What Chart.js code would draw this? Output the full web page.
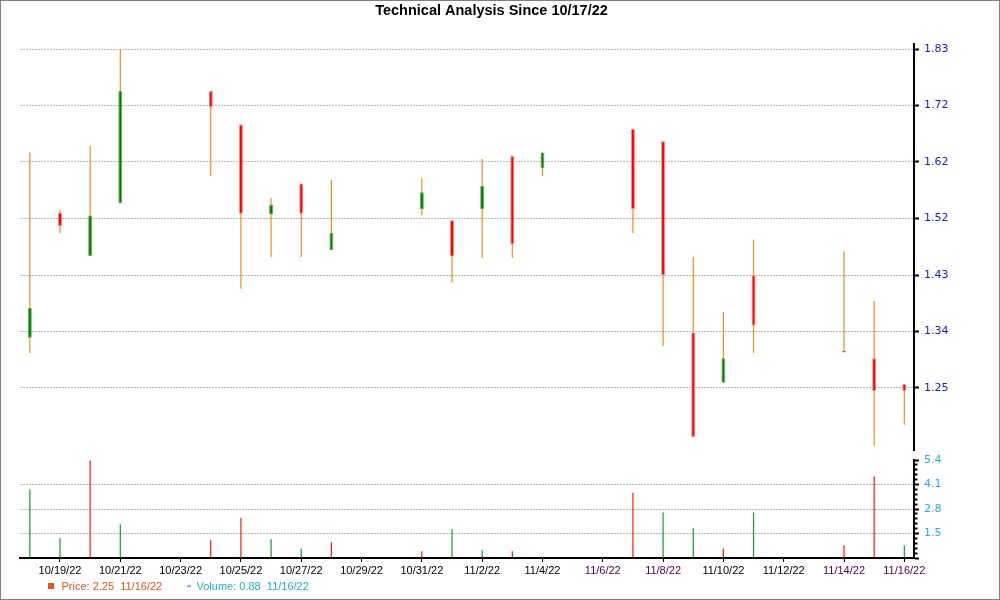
<!DOCTYPE html>
<html>
<head>
<meta charset="utf-8">
<script src="https://cdn.jsdelivr.net/npm/chart.js@4.4.1/dist/chart.umd.min.js"></script>
<style>
  html, body { margin: 0; padding: 0; background: #fff; }
  #wrap { position: relative; width: 1000px; height: 600px; overflow: hidden; background: #fff; }
  #frame { position: absolute; left: 0; top: 0; width: 998px; height: 598px; border: 1px solid #808080; pointer-events: none; }
  canvas { position: absolute; left: 0; }
  #priceChart { top: 0; width: 963px; height: 462px; }
  #volumeChart { top: 440px; width: 963px; height: 160px; }
</style>
</head>
<body>
<div id="wrap">
  <canvas id="priceChart" width="963" height="462"></canvas>
  <canvas id="volumeChart" width="963" height="160"></canvas>
  <div id="frame"></div>
</div>
<script>
// ---------------- data ----------------
const chartTitle = 'Technical Analysis Since 10/17/22';
const startDate = '10/17/22';
const dates = ['10/18/22','10/19/22','10/20/22','10/21/22','10/24/22','10/25/22','10/26/22','10/27/22','10/28/22','10/31/22','11/1/22','11/2/22','11/3/22','11/4/22','11/7/22','11/8/22','11/9/22','11/10/22','11/11/22','11/14/22','11/15/22','11/16/22'];
const openPrices  = [1.336,1.550,1.476,1.566,1.758,1.701,1.547,1.600,1.486,1.556,1.537,1.556,1.647,1.626,1.693,1.672,1.345,1.259,1.443,1.311,1.301,1.257];
const highPrices  = [1.653,1.555,1.664,1.830,1.758,1.701,1.575,1.600,1.606,1.609,1.537,1.642,1.647,1.653,1.693,1.672,1.474,1.380,1.504,1.484,1.399,1.257];
const lowPrices   = [1.310,1.515,1.476,1.566,1.613,1.420,1.474,1.474,1.486,1.545,1.430,1.473,1.473,1.613,1.515,1.322,1.166,1.259,1.310,1.311,1.151,1.187];
const closePrices = [1.387,1.527,1.545,1.758,1.731,1.548,1.564,1.548,1.515,1.585,1.475,1.596,1.496,1.653,1.556,1.443,1.166,1.301,1.357,1.311,1.245,1.245];
const volumes     = [3.83,1.28,5.38,1.99,1.14,2.34,1.19,0.71,1.03,0.56,1.72,0.61,0.56,null,3.65,2.62,1.78,0.71,2.62,0.87,4.53,0.88];
const volumeUp    = [true,true,false,true,false,false,true,true,false,false,true,true,false,null,false,true,true,false,true,false,false,true];

const priceTickValues = [1.25,1.3467,1.4433,1.54,1.6367,1.7333,1.83];
const priceTickLabels = ['1.25','1.34','1.43','1.52','1.62','1.72','1.83'];
const volumeTickValues = [0.2,1.5,2.8,4.1,5.4];
const volumeTickLabels = ['','1.5','2.8','4.1','5.4'];
const dateTickLabels = ['10/19/22','10/21/22','10/23/22','10/25/22','10/27/22','10/29/22','10/31/22','11/2/22','11/4/22','11/6/22','11/8/22','11/10/22','11/12/22','11/14/22','11/16/22'];
const highlightedDateLabels = ['11/6/22','11/8/22','11/14/22','11/16/22'];
const legendPriceText = 'Price: 2.25  11/16/22';
const legendVolumeText = 'Volume: 0.88  11/16/22';

// ---------------- helpers ----------------
function parseDate(s) { const [m, d, y] = s.split('/').map(Number); return new Date(2000 + y, m - 1, d); }
const base = parseDate(startDate);
function dayOf(s) { return Math.round((parseDate(s) - base) / 86400000); }
const xs = dates.map(dayOf);
const dateTickDays = dateTickLabels.map(dayOf);

const X_MIN = 0.6735, X_MAX = 30.321;
const P_MIN = 1.1439, P_MAX = 1.8386;
const V_MIN = 0.2, V_MAX = 5.4, V_MINOR_STEP = 0.26;

const WICK = '#f08c1c';
const UP = '#008000', UP_EDGE = '#62b062';
const DOWN = '#ff0000', DOWN_EDGE = '#ff8c8c';
const VOL_UP = '#0f9e32', VOL_DOWN = '#ff1a00';
const GRID = '#b8b8b8';
const PRICE_TICK_COLOR = '#1c1ccc';
const VOL_TICK_COLOR = '#1fb3c4';
const LEGEND_PRICE_COLOR = '#f0501e';

const tickFont = { family: 'DejaVu Sans', size: 11 };

Chart.defaults.font.family = 'Liberation Sans';

// ---------------- price chart ----------------
const wickData = xs.map((x, i) => ({ x, y: [lowPrices[i], highPrices[i]] }));
const bodyData = xs.map((x, i) => ({ x, y: [openPrices[i], closePrices[i]] }));
const isUp = i => closePrices[i] > openPrices[i];
const isDoji = i => closePrices[i] === openPrices[i];

new Chart(document.getElementById('priceChart'), {
  type: 'bar',
  data: {
    datasets: [
      {
        label: 'wick', data: wickData, backgroundColor: WICK, borderWidth: 0,
        barThickness: 1.2, grouped: false, order: 2, inflateAmount: 0
      },
      {
        label: 'body', data: bodyData,
        backgroundColor: xs.map((_, i) => isUp(i) ? UP : DOWN),
        borderColor: xs.map((_, i) => isDoji(i) ? DOWN : (isUp(i) ? UP_EDGE : DOWN_EDGE)),
        borderWidth: 1, borderSkipped: false, minBarLength: 1,
        barThickness: 4, grouped: false, order: 1, inflateAmount: 0
      }
    ]
  },
  options: {
    responsive: false, animation: false, devicePixelRatio: 1,
    layout: { padding: { left: 20, right: 0, top: 0, bottom: 12 } },
    plugins: {
      legend: { display: false }, tooltip: { enabled: false },
      title: {
        display: true, text: chartTitle, color: '#000',
        font: { family: 'Liberation Sans', size: 14.5, weight: 'bold', lineHeight: 1.2 },
        padding: { top: 2, bottom: 24.6 }
      }
    },
    scales: {
      x: { type: 'linear', min: X_MIN, max: X_MAX, display: false, offset: false, grid: { offset: false } },
      y: {
        type: 'linear', position: 'right', min: P_MIN, max: P_MAX,
        afterBuildTicks: s => { s.ticks = priceTickValues.map(v => ({ value: v })); },
        afterFit: s => { s.width = 49; },
        ticks: { callback: (v, i) => priceTickLabels[i], color: PRICE_TICK_COLOR, font: tickFont, padding: 5, autoSkip: false },
        grid: { color: GRID, lineWidth: 1, tickColor: '#000', tickLength: 5, tickWidth: 2 },
        border: { color: '#000', width: 2, dash: [2, 1] }
      }
    }
  }
});

// ---------------- volume chart ----------------
const volumeData = [];
const volumeColors = [];
xs.forEach((x, i) => {
  if (volumes[i] !== null) {
    volumeData.push({ x, y: volumes[i] });
    volumeColors.push(volumeUp[i] ? VOL_UP : VOL_DOWN);
  }
});
const minorTicks = [];
for (let k = 1; k < 20; k++) { if (k % 5 !== 0) minorTicks.push(V_MIN + k * V_MINOR_STEP); }

const legendPlugin = {
  id: 'priceVolumeLegend',
  afterDraw(chart) {
    const ctx = chart.ctx;
    ctx.save();
    ctx.font = '11px "Liberation Sans"';
    ctx.textBaseline = 'middle';
    ctx.textAlign = 'left';
    const y = 146.5;
    ctx.fillStyle = LEGEND_PRICE_COLOR;
    ctx.fillRect(48, 143, 6, 6);
    ctx.fillText(legendPriceText, 61.5, y);
    ctx.fillStyle = VOL_TICK_COLOR;
    ctx.fillRect(187, 145.5, 4, 1.3);
    ctx.fillText(legendVolumeText, 196.5, y);
    ctx.restore();
  }
};

new Chart(document.getElementById('volumeChart'), {
  type: 'bar',
  data: {
    datasets: [{
      label: 'Volume', data: volumeData, backgroundColor: volumeColors, borderWidth: 0,
      barThickness: 1.2, base: V_MIN, inflateAmount: 0, yAxisID: 'y'
    }]
  },
  options: {
    responsive: false, animation: false, devicePixelRatio: 1,
    layout: { padding: { left: 20, right: 0, top: 20, bottom: 22 } },
    plugins: { legend: { display: false }, tooltip: { enabled: false }, title: { display: false } },
    scales: {
      x: {
        type: 'linear', position: 'bottom', min: X_MIN, max: X_MAX, offset: false,
        afterBuildTicks: s => { s.ticks = dateTickDays.map(v => ({ value: v })); },
        afterFit: s => { s.height = 20; },
        ticks: {
          callback: (v, i) => dateTickLabels[i], autoSkip: false, maxRotation: 0, padding: 2,
          font: { family: 'Liberation Sans', size: 11 },
          color: c => (c.tick && highlightedDateLabels.includes(c.tick.label)) ? '#500050' : '#000'
        },
        grid: { offset: false, drawOnChartArea: false, tickLength: 4, tickColor: '#000', tickWidth: 1 },
        border: { color: '#000', width: 2 }
      },
      yMinor: {
        type: 'linear', position: 'right', min: V_MIN, max: V_MAX, weight: 0,
        afterBuildTicks: s => { s.ticks = minorTicks.map(v => ({ value: v })); },
        afterFit: s => { s.width = 0; },
        ticks: { display: false },
        grid: { drawOnChartArea: false, tickColor: '#000', tickLength: 3.5, tickWidth: 2 },
        border: { display: false }
      },
      y: {
        type: 'linear', position: 'right', min: V_MIN, max: V_MAX, weight: 1,
        afterBuildTicks: s => { s.ticks = volumeTickValues.map(v => ({ value: v })); },
        afterFit: s => { s.width = 49; },
        ticks: { callback: (v, i) => volumeTickLabels[i], color: VOL_TICK_COLOR, font: tickFont, padding: 5, autoSkip: false },
        grid: {
          color: c => (c.index === 0 || c.index === volumeTickValues.length - 1) ? 'rgba(0,0,0,0)' : GRID,
          lineWidth: 1, tickColor: '#000', tickLength: 5, tickWidth: 2
        },
        border: { color: '#000', width: 2, dash: [2, 1] }
      }
    }
  },
  plugins: [legendPlugin]
});
</script>
</body>
</html>
